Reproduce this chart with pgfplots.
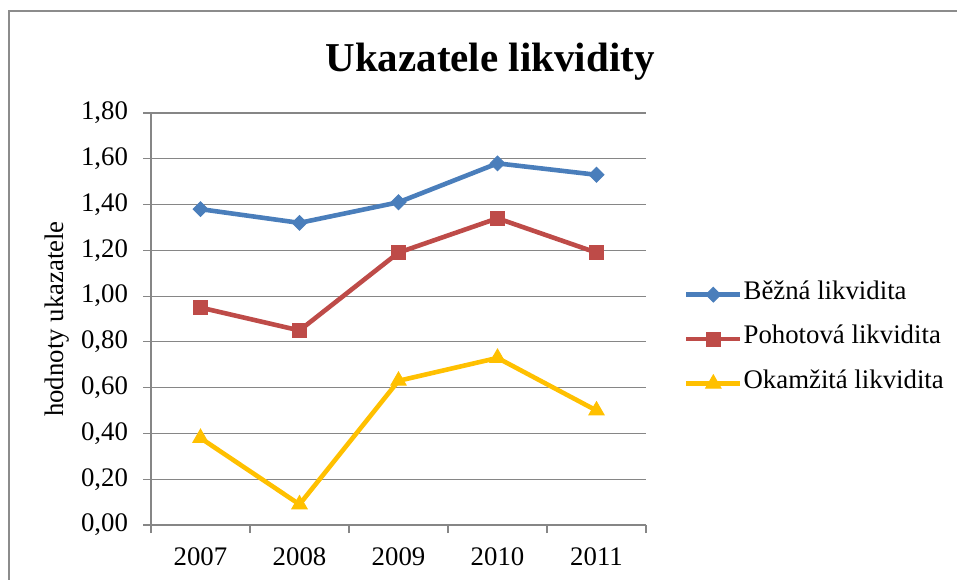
\documentclass[border=0pt]{standalone}
\usepackage{pgfplots}
\pgfplotsset{compat=1.18}
\usepackage{fontspec}
\setmainfont{Liberation Serif}
\definecolor{bezna}{HTML}{4A7EBB}
\definecolor{pohot}{HTML}{BE4B48}
\definecolor{okam}{HTML}{FFC000}
\definecolor{gridc}{HTML}{868686}
\definecolor{framec}{HTML}{8C8C8C}

\begin{document}
\begin{tikzpicture}
\useasboundingbox (-75.5pt,-27pt) rectangle (403pt,262.5pt);
% outer chart frame (right and bottom edges fall outside the picture)
\draw[framec, line width=1pt] (-71pt,-40pt) -- (-71pt,257pt) -- (420pt,257pt);
\begin{axis}[at={(0,0)}, anchor=south west, scale only axis,
    width=247.5pt, height=206pt,
    xmin=0.5, xmax=5.5, ymin=0, ymax=1.8,
    xtick={1,2,3,4,5}, xticklabels={2007,2008,2009,2010,2011},
    minor xtick={0.5,1.5,2.5,3.5,4.5,5.5},
    ytick={0,0.2,0.4,0.6,0.8,1.0,1.2,1.4,1.6,1.8},
    axis lines*=left, axis line style={draw=gridc, line width=0.6pt, -},
    ymajorgrids, major grid style={draw=gridc, line width=0.6pt},
    tick align=outside, major tick length=4pt, minor tick length=4pt,
    major x tick style={draw=none},
    minor x tick style={draw=gridc, line width=0.6pt},
    major y tick style={draw=gridc, line width=0.6pt},
    tick label style={font=\fontsize{13.4}{15}\selectfont, text=black},
    xticklabel style={yshift=-4pt},
    yticklabel style={xshift=-4pt, /pgf/number format/.cd, fixed, fixed zerofill, precision=2, use comma, assume math mode=true},
    clip=false,
    legend style={draw=none, fill=none, at={(axis description cs:1.076,0.614)}, anchor=north west,
        inner sep=0pt, row sep=0pt, font=\fontsize{13.4}{15}\selectfont,
        nodes={inner sep=0.5pt, text height=13pt, text depth=8.25pt}},
    legend cell align=left,
    legend image code/.code={\draw[mark repeat=2, mark phase=2, #1] plot coordinates {(0pt,0pt) (13.5pt,0pt) (27pt,0pt)};},
  ]
  \addplot[bezna, line width=2.3pt, mark=square*, mark size=2.6pt, mark options={rotate=45, solid, line width=0.5pt}]
    coordinates {(1,1.38) (2,1.32) (3,1.41) (4,1.58) (5,1.53)};
  \addplot[pohot, line width=2.3pt, mark=square*, mark size=3.5pt, mark options={solid, line width=0.5pt}]
    coordinates {(1,0.95) (2,0.85) (3,1.19) (4,1.34) (5,1.19)};
  \addplot[okam, line width=2.3pt, mark=triangle*, mark size=4.4pt, mark options={solid, line width=0.5pt}]
    coordinates {(1,0.38) (2,0.09) (3,0.63) (4,0.73) (5,0.50)};
  \legend{Běžná likvidita, Pohotová likvidita, Okamžitá likvidita}
\end{axis}
\node[anchor=base, font=\fontsize{20.5}{24}\selectfont\bfseries] at (169.5pt,226.5pt) {Ukazatele likvidity};
\node[rotate=90, font=\fontsize{13.4}{15}\selectfont] at (-47pt,103pt) {hodnoty ukazatele};
\end{tikzpicture}
\end{document}
